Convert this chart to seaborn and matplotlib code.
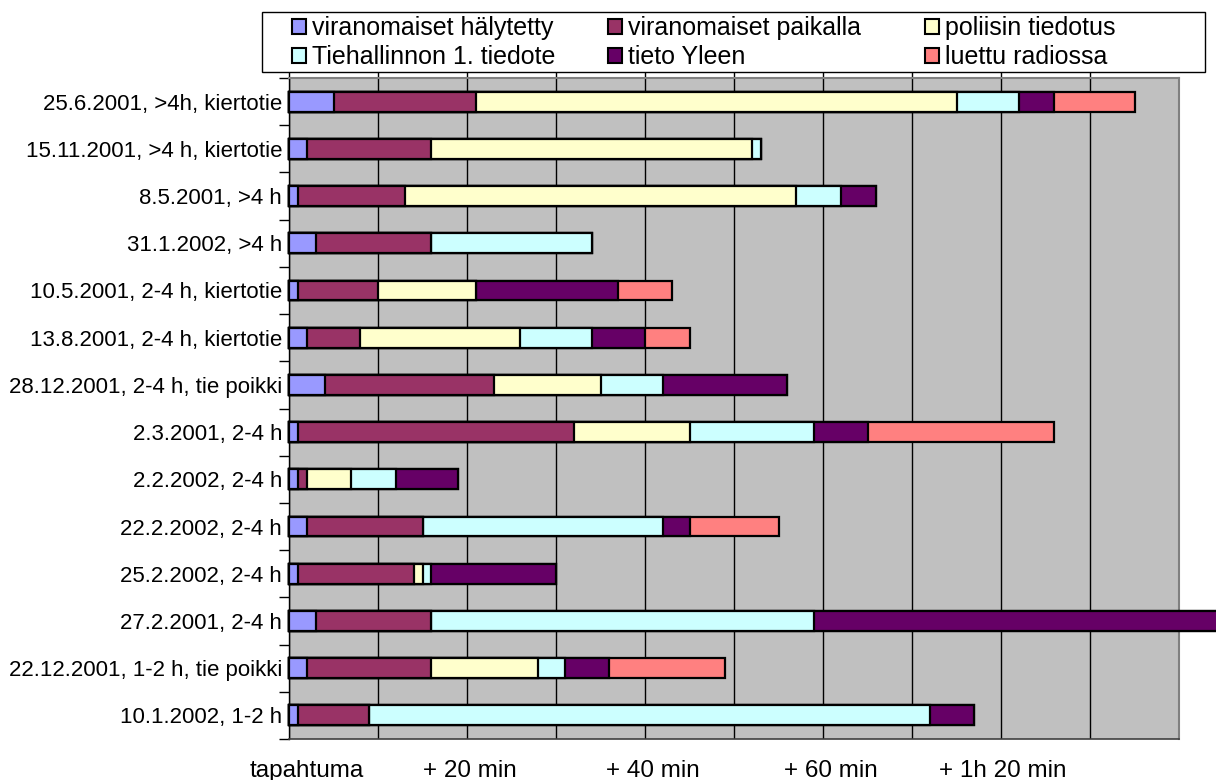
import numpy as np
import pandas as pd
import matplotlib
matplotlib.use("Agg")
import matplotlib.pyplot as plt
from matplotlib.patches import Patch, Rectangle
import seaborn as sns

# Incidents, top to bottom
categories = [
    "25.6.2001, >4h, kiertotie",
    "15.11.2001, >4 h, kiertotie",
    "8.5.2001, >4 h",
    "31.1.2002, >4 h",
    "10.5.2001, 2-4 h, kiertotie",
    "13.8.2001, 2-4 h, kiertotie",
    "28.12.2001, 2-4 h, tie poikki",
    "2.3.2001, 2-4 h",
    "2.2.2002, 2-4 h",
    "22.2.2002, 2-4 h",
    "25.2.2002, 2-4 h",
    "27.2.2001, 2-4 h",
    "22.12.2001, 1-2 h, tie poikki",
    "10.1.2002, 1-2 h",
]

# Minutes spent in each phase of the information chain
halytetty   = [5, 2, 1, 3, 1, 2, 4, 1, 1, 2, 1, 3, 2, 1]
paikalla    = [16, 14, 12, 13, 9, 6, 19, 31, 1, 13, 13, 13, 14, 8]
poliisi     = [54, 36, 44, 0, 11, 18, 12, 13, 5, 0, 1, 0, 12, 0]
tiehallinto = [7, 1, 5, 18, 0, 8, 7, 14, 5, 27, 1, 43, 3, 63]
yle         = [4, 0, 4, 0, 16, 6, 14, 6, 7, 3, 14, 48, 5, 5]
radio       = [9, 0, 0, 0, 6, 5, 0, 21, 0, 10, 0, 0, 13, 0]

series_names = [
    "viranomaiset hälytetty",
    "viranomaiset paikalla",
    "poliisin tiedotus",
    "Tiehallinnon 1. tiedote",
    "tieto Yleen",
    "luettu radiossa",
]
series_values = [halytetty, paikalla, poliisi, tiehallinto, yle, radio]
colors = ["#9999FF", "#993366", "#FFFFCC", "#CCFFFF", "#660066", "#FF8080"]

xtick_labels = ["tapahtuma", "+ 20 min", "+ 40 min", "+ 60 min", "+ 1h 20 min"]
xtick_pos = [2.0, 20.3, 40.9, 60.9, 80.2]

plt.rcParams["font.family"] = ["Liberation Sans", "DejaVu Sans"]

W, H = 1216, 780
fig = plt.figure(figsize=(W / 100, H / 100), dpi=100)
ax_l, ax_r, ax_t, ax_b = 289, 1179, 78, 739
ax = fig.add_axes([ax_l / W, 1 - ax_b / H, (ax_r - ax_l) / W, (ax_b - ax_t) / H])
ax.set_facecolor("#C0C0C0")

# stacked bars: draw cumulative totals from the last phase back to the first
df = pd.DataFrame({name: vals for name, vals in zip(series_names, series_values)},
                  index=categories)
cum = df.cumsum(axis=1)
for i in reversed(range(len(series_names))):
    sns.barplot(
        x=cum.iloc[:, i].values, y=categories, order=categories, orient="y",
        color=colors[i], saturation=1, width=0.42, errorbar=None,
        edgecolor="black", linewidth=1.6, clip_on=False, ax=ax, zorder=3,
    )

ax.set_xlim(0, 100)
ax.set_ylim(len(categories) - 0.5, -0.5)
ax.set_xlabel("")
ax.set_ylabel("")

# vertical gridlines every 10 minutes
ax.set_xticks(np.arange(0, 101, 10), minor=True)
ax.set_xticks(xtick_pos, xtick_labels)
ax.grid(False)
ax.grid(which="minor", axis="x", color="black", linewidth=1.0, zorder=1)
ax.set_axisbelow(True)
ax.tick_params(axis="x", which="both", length=0, pad=15, labelsize=17.5)

ax.set_yticks(np.arange(-0.5, len(categories), 1), minor=True)
ax.tick_params(axis="y", which="major", length=0, pad=5, labelsize=16)
ax.tick_params(axis="y", which="minor", length=7, width=1, color="black")

for side in ["top", "right"]:
    ax.spines[side].set_color("#808080")
    ax.spines[side].set_linewidth(1.5)
ax.spines["bottom"].set_color("#404040")
ax.spines["bottom"].set_linewidth(1.2)
ax.spines["left"].set_color("black")
ax.spines["left"].set_linewidth(1.0)

# gridlines run slightly above the plot area, up to the legend box
for v in range(0, 100, 10):
    ax.plot([v, v], [1, 1.012], transform=ax.get_xaxis_transform(),
            color="black", linewidth=1.0, clip_on=False)

# legend box
box_l, box_r, box_t, box_b = 262, 1205, 12, 72
fig.add_artist(Rectangle((box_l / W, 1 - box_b / H), (box_r - box_l) / W,
                         (box_b - box_t) / H, transform=fig.transFigure,
                         facecolor="white", edgecolor="black", linewidth=1.0,
                         zorder=2))
handles = [Patch(facecolor=c, edgecolor="black", linewidth=1.5) for c in colors]
col_x = [292, 608, 925]
for j, x0 in enumerate(col_x):
    fig.legend([handles[j], handles[j + 3]], [series_names[j], series_names[j + 3]],
               ncol=1, loc="upper left", bbox_to_anchor=(x0 / W, 1 - 16 / H),
               frameon=False, fontsize=18, handlelength=0.55, handleheight=0.55,
               handletextpad=0.25, labelspacing=0.22,
               borderpad=0, borderaxespad=0)

fig.savefig("out.png", dpi=100)
